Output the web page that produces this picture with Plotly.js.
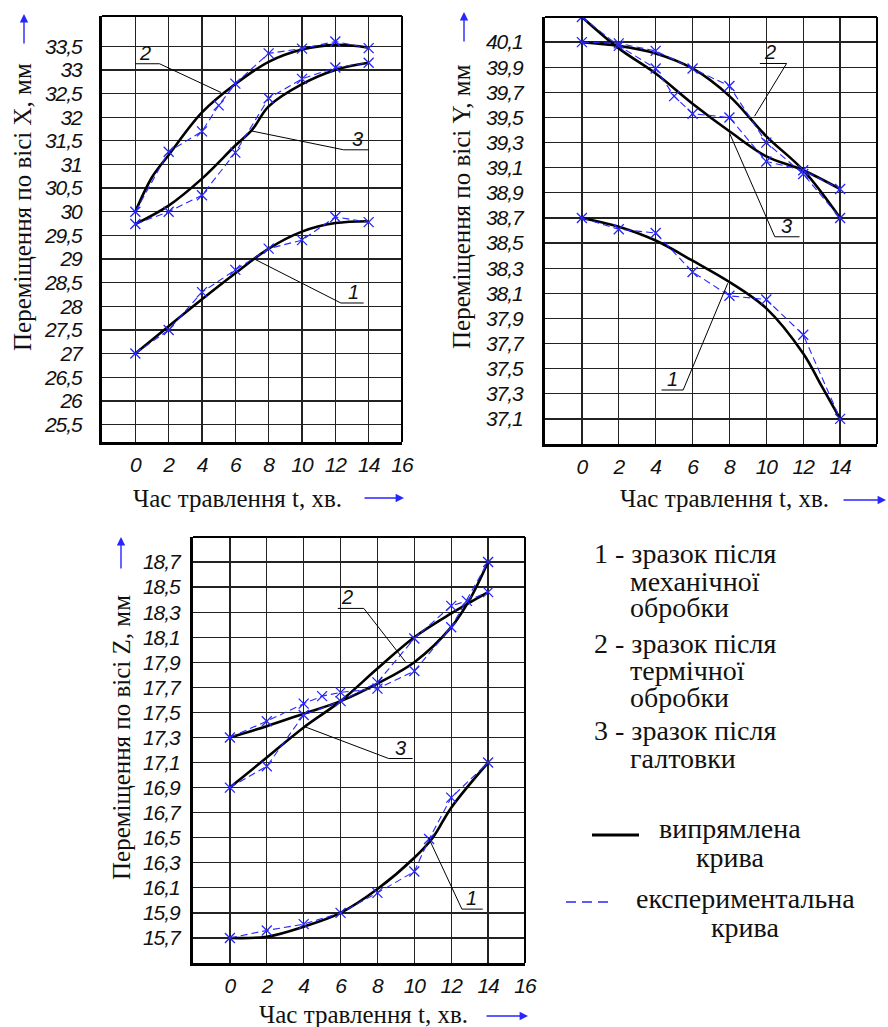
<!DOCTYPE html>
<html><head><meta charset="utf-8">
<script src="https://cdn.plot.ly/plotly-3.0.1.min.js"></script>
<style>
body{margin:0;background:#fff}#chart{width:888px;height:1027px}
#chart .xtick text,#chart .x2tick text,#chart .x3tick text,
#chart .ytick text,#chart .y2tick text,#chart .y3tick text{font-style:italic !important;letter-spacing:-1px}
</style>
</head><body><div id="chart"></div>
<script>
// ---------- DATA ----------
const tTicks = [0,2,4,6,8,10,12,14,16];
const tTickText = ['0','2','4','6','8','10','12','14','16'];

// Plot X (displacement along X)
const xTickVals = [25.5,26,26.5,27,27.5,28,28.5,29,29.5,30,30.5,31,31.5,32,32.5,33,33.5];
const xTickText = ['25,5','26','26,5','27','27,5','28','28,5','29','29,5','30','30,5','31','31,5','32','32,5','33','33,5'];
const xFit1T = [0,2,4,6,8,10,12,14];          const xFit1 = [27.0,27.58,28.15,28.7,29.22,29.58,29.76,29.8];
const xExp1T = [0,2,4,6,8,10,12,14];          const xExp1 = [27.0,27.5,28.3,28.77,29.22,29.4,29.89,29.78];
const xFit2T = [0,1,2,4,6,8,10,12,14];        const xFit2 = [30.0,30.73,31.2,32.1,32.7,33.17,33.43,33.53,33.47];
const xExp2T = [0,2,4,5,6,8,10,12,14];        const xExp2 = [30.0,31.27,31.7,32.25,32.71,33.35,33.45,33.6,33.46];
const xFit3T = [0,2,4,6,7,8,10,12,14];        const xFit3 = [29.74,30.13,30.7,31.4,31.73,32.23,32.7,33.0,33.15];
const xExp3T = [0,2,4,6,8,10,12,14];          const xExp3 = [29.74,30.0,30.35,31.25,32.4,32.81,33.05,33.15];

// Plot Y (displacement along Y)
const yTickVals = [37.1,37.3,37.5,37.7,37.9,38.1,38.3,38.5,38.7,38.9,39.1,39.3,39.5,39.7,39.9,40.1];
const yTickText = ['37,1','37,3','37,5','37,7','37,9','38,1','38,3','38,5','38,7','38,9','39,1','39,3','39,5','39,7','39,9','40,1'];
const yFit1T = [0,2,4,6,8,10,12,13,14];       const yFit1 = [38.7,38.63,38.52,38.36,38.19,37.98,37.62,37.36,37.1];
const yExp1T = [0,2,4,6,8,10,12,14];          const yExp1 = [38.7,38.61,38.58,38.27,38.08,38.05,37.77,37.1];
const yFit2T = [0,2,4,6,8,10,12,14];          const yFit2 = [40.1,40.07,40.01,39.89,39.67,39.35,39.08,38.7];
const yExp2T = [0,2,4,6,8,10,12,14];          const yExp2 = [40.1,40.09,40.03,39.89,39.75,39.3,39.05,38.7];
const yFit3T = [0,2,4,6,8,10,12,14];          const yFit3 = [40.3,40.05,39.85,39.61,39.39,39.19,39.08,38.93];
const yExp3T = [0,2,4,5,6,8,10,12,14];        const yExp3 = [40.3,40.07,39.89,39.67,39.53,39.5,39.15,39.08,38.93];

// Plot Z (displacement along Z)
const zTickVals = [15.7,15.9,16.1,16.3,16.5,16.7,16.9,17.1,17.3,17.5,17.7,17.9,18.1,18.3,18.5,18.7];
const zTickText = ['15,7','15,9','16,1','16,3','16,5','16,7','16,9','17,1','17,3','17,5','17,7','17,9','18,1','18,3','18,5','18,7'];
const zFit1T = [0,2,4,6,8,10,11,12,14];       const zFit1 = [15.7,15.71,15.79,15.9,16.09,16.34,16.5,16.74,17.1];
const zExp1T = [0,2,4,6,8,10,10.8,12,14];     const zExp1 = [15.7,15.76,15.81,15.9,16.06,16.23,16.49,16.82,17.1];
const zFit2T = [0,2,4,6,8,10,12,13,14];       const zFit2 = [17.3,17.39,17.49,17.59,17.73,17.9,18.18,18.4,18.7];
const zExp2T = [0,2,4,5,6,8,10,12,14];        const zExp2 = [17.3,17.43,17.57,17.63,17.66,17.69,17.83,18.18,18.7];
const zFit3T = [0,2,4,6,8,10,12,14];          const zFit3 = [16.9,17.14,17.38,17.59,17.85,18.1,18.29,18.46];
const zExp3T = [0,2,4,6,8,10,12,12.85,14];    const zExp3 = [16.9,17.07,17.48,17.59,17.74,18.09,18.35,18.39,18.46];

// labels
const yTitles = ['Переміщення по вісі X, мм','Переміщення по вісі Y, мм','Переміщення по вісі Z, мм'];
const xTitle = 'Час травлення t, хв.';
const legendLines = ['1 - зразок після','механічної','обробки','2 - зразок після','термічної','обробки','3 - зразок після','галтовки'];
const lineLegend = ['випрямлена','крива','експериментальна','крива'];

// ---------- LAYOUT ----------
const W = 888, H = 1027;
const px = v => v / W, py = v => 1 - v / H;
const TF = '"Liberation Sans", Arial, sans-serif';
const SF = '"Liberation Serif", "Times New Roman", serif';
const BLUE = '#2626ff';

function xAx(l, r, anchor, standoff) {
  return {domain:[px(l), px(r)], anchor, range:[-2,16], tickvals:tTicks, ticktext:tTickText,
    showgrid:true, gridcolor:'#222', gridwidth:1.3, zeroline:false, showline:true, linecolor:'#000',
    linewidth:3, ticks:'', ticklabelstandoff:standoff, fixedrange:true,
    tickfont:{family:TF, size:21, color:'#111', style:'italic'}};
}
function yAx(t, b, anchor, range, vals, text, standoff) {
  return {domain:[py(b), py(t)], anchor, range, tickvals:vals, ticktext:text,
    showgrid:true, gridcolor:'#222', gridwidth:1.3, zeroline:false, showline:true, linecolor:'#000',
    linewidth:3, ticks:'', ticklabelstandoff:standoff, fixedrange:true,
    tickfont:{family:TF, size:21, color:'#111', style:'italic'}};
}

function fit(t, v, xa, ya) {
  return {x:t, y:v, xaxis:xa, yaxis:ya, mode:'lines', type:'scatter', hoverinfo:'skip',
    line:{shape:'spline', smoothing:1, color:'#000', width:2.6}};
}
function exp(t, v, xa, ya) {
  return {x:t, y:v, xaxis:xa, yaxis:ya, mode:'lines+markers', type:'scatter', hoverinfo:'skip',
    line:{color:BLUE, width:1.1, dash:'7px,4px'},
    marker:{symbol:'x-thin', size:10, line:{width:1.3, color:BLUE}}};
}

const data = [
  fit(xFit1T,xFit1,'x','y'), fit(xFit2T,xFit2,'x','y'), fit(xFit3T,xFit3,'x','y'),
  exp(xExp1T,xExp1,'x','y'), exp(xExp2T,xExp2,'x','y'), exp(xExp3T,xExp3,'x','y'),
  fit(yFit1T,yFit1,'x2','y2'), fit(yFit2T,yFit2,'x2','y2'), fit(yFit3T,yFit3,'x2','y2'),
  exp(yExp1T,yExp1,'x2','y2'), exp(yExp2T,yExp2,'x2','y2'), exp(yExp3T,yExp3,'x2','y2'),
  fit(zFit1T,zFit1,'x3','y3'), fit(zFit2T,zFit2,'x3','y3'), fit(zFit3T,zFit3,'x3','y3'),
  exp(zExp1T,zExp1,'x3','y3'), exp(zExp2T,zExp2,'x3','y3'), exp(zExp3T,zExp3,'x3','y3')
];

const shapes = [];
[['x','y'],['x2','y2'],['x3','y3']].forEach(([xa,ya]) => {
  shapes.push({type:'line', xref:xa+' domain', yref:ya+' domain', x0:0, x1:1, y0:1, y1:1, line:{color:'#000', width:2}});
  shapes.push({type:'line', xref:xa+' domain', yref:ya+' domain', x0:1, x1:1, y0:0, y1:1, line:{color:'#000', width:2}});
});
function leader(xa, ya, pts) {
  const d = pts.map((p,i) => (i ? 'L' : 'M') + p[0] + ',' + p[1]).join(' ');
  shapes.push({type:'path', xref:xa, yref:ya, path:d, line:{color:'#000', width:1}});
}
leader('x','y',[[0,33.13],[1.45,33.13],[5.15,32.52]]);
leader('x','y',[[6.95,31.71],[12.5,31.31],[14,31.31]]);
leader('x','y',[[7.14,29.0],[12.33,28.07],[13.7,28.07]]);
leader('x2','y2',[[9.65,39.93],[11.1,39.93],[9.36,39.51]]);
leader('x2','y2',[[8.02,39.37],[10.46,38.55],[11.8,38.55]]);
leader('x2','y2',[[7.91,38.18],[5.49,37.33],[4.32,37.33]]);
leader('x3','y3',[[10.77,16.5],[12.58,15.93],[13.71,15.93]]);
leader('x3','y3',[[9.51,17.905],[7.26,18.33],[5.85,18.33]]);
leader('x3','y3',[[4.02,17.388],[8.61,17.132],[9.91,17.132]]);
shapes.push({type:'line', xref:'paper', yref:'paper', x0:px(592), x1:px(639), y0:py(835), y1:py(835), line:{color:'#000', width:3}});
shapes.push({type:'line', xref:'paper', yref:'paper', x0:px(566), x1:px(612), y0:py(902), y1:py(902), line:{color:BLUE, width:1.3, dash:'10px,6px'}});

const ann = [];
function num(xa, ya, x, y, s) {
  ann.push({xref:xa, yref:ya, x, y, text:s, showarrow:false, xanchor:'center', yanchor:'bottom', yshift:-2,
    font:{family:TF, size:20, color:'#111', style:'italic'}});
}
num('x','y',0.55,33.13,'2'); num('x','y',13.35,31.31,'3'); num('x','y',13.1,28.07,'1');
num('x2','y2',10.2,39.93,'2'); num('x2','y2',11.1,38.55,'3'); num('x2','y2',4.9,37.33,'1');
num('x3','y3',13.1,15.93,'1'); num('x3','y3',6.36,18.33,'2'); num('x3','y3',9.24,17.132,'3');

function ptext(x, y, s, size, anchor) {
  ann.push({xref:'paper', yref:'paper', x:px(x), y:py(y), text:s, showarrow:false, xanchor:anchor||'center', yanchor:'middle',
    font:{family:SF, size:size, color:'#111'}});
}
function ytitle(x, y, s) {
  ann.push({xref:'paper', yref:'paper', x:px(x), y:py(y), text:s, showarrow:false, textangle:-90, xanchor:'center', yanchor:'middle',
    font:{family:SF, size:25, color:'#111'}});
}
function arrow(x, y, ax, ay) {
  ann.push({xref:'paper', yref:'paper', x:px(x), y:py(y), ax, ay, text:'', showarrow:true, arrowhead:2, arrowsize:1.2,
    arrowwidth:1.4, arrowcolor:BLUE, standoff:0, startstandoff:0});
}
ytitle(23, 207, yTitles[0]); ytitle(462, 207, yTitles[1]); ytitle(121, 738, yTitles[2]);
arrow(24, 14, 0, 31); arrow(464, 12, 0, 31); arrow(121, 537, 0, 33);
ptext(237, 498, xTitle, 25); ptext(724, 498, xTitle, 25); ptext(363, 1014, xTitle, 25);
arrow(404, 498, -41, 0); arrow(886, 500, -44, 0); arrow(528, 1016, -43, 0);

const legY = [553, 581, 607, 643, 670, 697, 730, 758];
legendLines.forEach((s,i) => ptext((s[0] >= '0' && s[0] <= '9') ? 592 : 628, legY[i], s, 28, 'left'));
ptext(730, 828, lineLegend[0], 28); ptext(730, 857, lineLegend[1], 28);
ptext(745, 898, lineLegend[2], 28); ptext(745, 927, lineLegend[3], 28);

const layout = {
  width:W, height:H, margin:{l:0, r:0, t:0, b:0}, showlegend:false,
  paper_bgcolor:'#fff', plot_bgcolor:'#fff',
  xaxis: xAx(102, 402, 'y', 2),
  yaxis: yAx(16, 442, 'x', [25.13, 34.14], xTickVals, xTickText, 13),
  xaxis2: xAx(545, 877, 'y2', 2),
  yaxis2: yAx(17, 444, 'x2', [36.9, 40.3], yTickVals, yTickText, 15),
  xaxis3: xAx(193, 525, 'y3', 2),
  yaxis3: yAx(537, 963, 'x3', [15.5, 18.9], zTickVals, zTickText, 6),
  shapes, annotations:ann
};
Plotly.newPlot('chart', data, layout, {staticPlot:true, displayModeBar:false});
</script></body></html>
